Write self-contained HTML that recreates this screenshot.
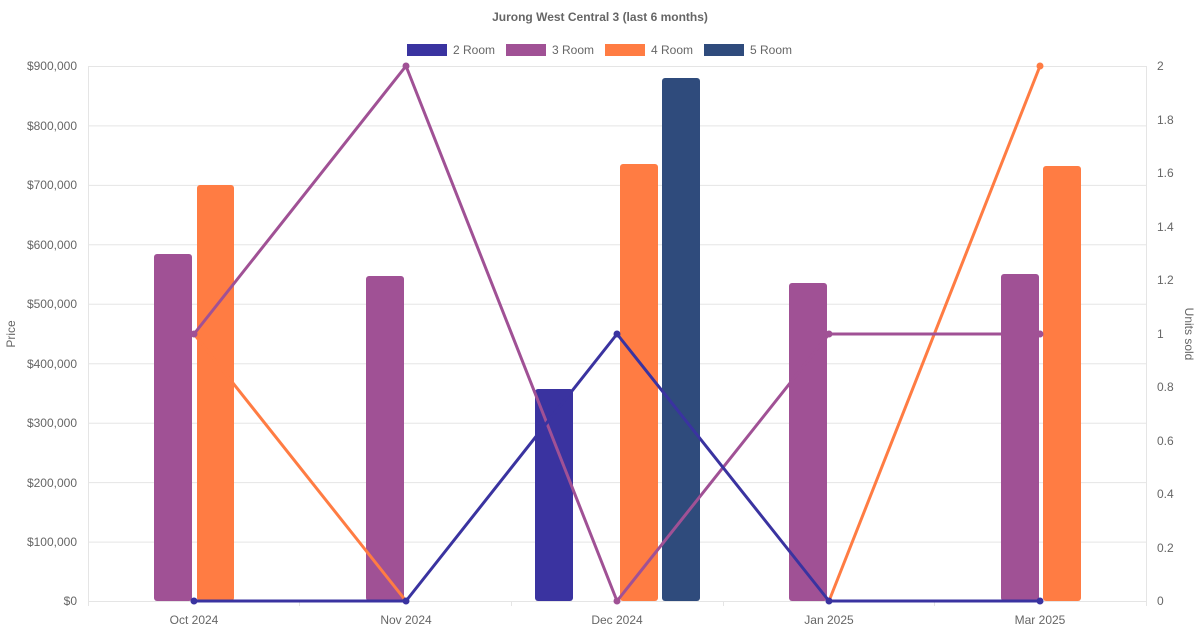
<!DOCTYPE html>
<html><head><meta charset="utf-8"><style>
body{margin:0;background:#fff;}
svg{display:block;font-family:"Liberation Sans",sans-serif;}
</style></head><body>
<svg width="1200" height="630" xmlns="http://www.w3.org/2000/svg">
<text x="600" y="21" text-anchor="middle" font-size="12" font-weight="bold" fill="#666">Jurong West Central 3 (last 6 months)</text>
<g font-size="12" fill="#666">
<rect x="407" y="44" width="40" height="12" fill="#3a33a0"/><text x="453" y="54">2 Room</text>
<rect x="506" y="44" width="40" height="12" fill="#a05195"/><text x="552" y="54">3 Room</text>
<rect x="605" y="44" width="40" height="12" fill="#ff7c43"/><text x="651" y="54">4 Room</text>
<rect x="704" y="44" width="40" height="12" fill="#2f4b7c"/><text x="750" y="54">5 Room</text>
</g>
<g stroke="#e5e5e5" stroke-width="1">
<line x1="88" y1="66.5" x2="1146" y2="66.5"/><line x1="88" y1="125.9" x2="1146" y2="125.9"/>
<line x1="88" y1="185.4" x2="1146" y2="185.4"/><line x1="88" y1="244.8" x2="1146" y2="244.8"/>
<line x1="88" y1="304.3" x2="1146" y2="304.3"/><line x1="88" y1="363.7" x2="1146" y2="363.7"/>
<line x1="88" y1="423.2" x2="1146" y2="423.2"/><line x1="88" y1="482.6" x2="1146" y2="482.6"/>
<line x1="88" y1="542.1" x2="1146" y2="542.1"/><line x1="88" y1="601.5" x2="1146" y2="601.5"/>
<line x1="88.5" y1="66" x2="88.5" y2="606"/><line x1="1146.5" y1="66" x2="1146.5" y2="606"/>
<line x1="299.5" y1="601" x2="299.5" y2="606"/><line x1="511.5" y1="601" x2="511.5" y2="606"/>
<line x1="723.5" y1="601" x2="723.5" y2="606"/><line x1="934.5" y1="601" x2="934.5" y2="606"/>
</g>
<g font-size="12" fill="#666" text-anchor="end">
<text x="77" y="70">$900,000</text><text x="77" y="130">$800,000</text><text x="77" y="189">$700,000</text>
<text x="77" y="249">$600,000</text><text x="77" y="308">$500,000</text><text x="77" y="368">$400,000</text>
<text x="77" y="427">$300,000</text><text x="77" y="487">$200,000</text><text x="77" y="546">$100,000</text>
<text x="77" y="605">$0</text>
</g>
<g font-size="12" fill="#666">
<text x="1157" y="70">2</text><text x="1157" y="124">1.8</text><text x="1157" y="177">1.6</text>
<text x="1157" y="231">1.4</text><text x="1157" y="284">1.2</text><text x="1157" y="338">1</text>
<text x="1157" y="391">0.8</text><text x="1157" y="445">0.6</text><text x="1157" y="498">0.4</text>
<text x="1157" y="552">0.2</text><text x="1157" y="605">0</text>
</g>
<g font-size="12" fill="#666" text-anchor="middle">
<text x="194" y="624">Oct 2024</text><text x="406" y="624">Nov 2024</text><text x="617" y="624">Dec 2024</text>
<text x="829" y="624">Jan 2025</text><text x="1040" y="624">Mar 2025</text>
</g>
<text transform="translate(15,334) rotate(-90)" text-anchor="middle" font-size="12" fill="#666">Price</text>
<text transform="translate(1185,334) rotate(90)" text-anchor="middle" font-size="12" fill="#666">Units sold</text>
<g>
<rect x="154" y="254" width="38" height="347" rx="3" fill="#a05195"/>
<rect x="197" y="185" width="37" height="416" rx="3" fill="#ff7c43"/>
<rect x="366" y="276" width="38" height="325" rx="3" fill="#a05195"/>
<rect x="535" y="389" width="38" height="212" rx="3" fill="#3a33a0"/>
<rect x="620" y="164" width="38" height="437" rx="3" fill="#ff7c43"/>
<rect x="662" y="78" width="38" height="523" rx="3" fill="#2f4b7c"/>
<rect x="789" y="283" width="38" height="318" rx="3" fill="#a05195"/>
<rect x="1001" y="274" width="38" height="327" rx="3" fill="#a05195"/>
<rect x="1043" y="166" width="38" height="435" rx="3" fill="#ff7c43"/>
</g>
<g fill="none" stroke-width="3" stroke-linejoin="round">
<polyline points="194,334 406,601" stroke="#ff7c43"/>
<polyline points="829,601 1040,66" stroke="#ff7c43"/>
<polyline points="194,334 406,66 617,601 829,334 1040,334" stroke="#a05195"/>
<polyline points="194,601 406,601 617,334 829,601 1040,601" stroke="#3a33a0"/>
</g>
<g>
<circle cx="1040" cy="66" r="3.5" fill="#ff7c43"/>
<circle cx="194" cy="334" r="3.5" fill="#a05195"/><circle cx="406" cy="66" r="3.5" fill="#a05195"/>
<circle cx="617" cy="601" r="3.5" fill="#a05195"/><circle cx="829" cy="334" r="3.5" fill="#a05195"/>
<circle cx="1040" cy="334" r="3.5" fill="#a05195"/>
<circle cx="194" cy="601" r="3.5" fill="#3a33a0"/><circle cx="406" cy="601" r="3.5" fill="#3a33a0"/>
<circle cx="617" cy="334" r="3.5" fill="#3a33a0"/><circle cx="829" cy="601" r="3.5" fill="#3a33a0"/>
<circle cx="1040" cy="601" r="3.5" fill="#3a33a0"/>
</g>
</svg>
</body></html>
